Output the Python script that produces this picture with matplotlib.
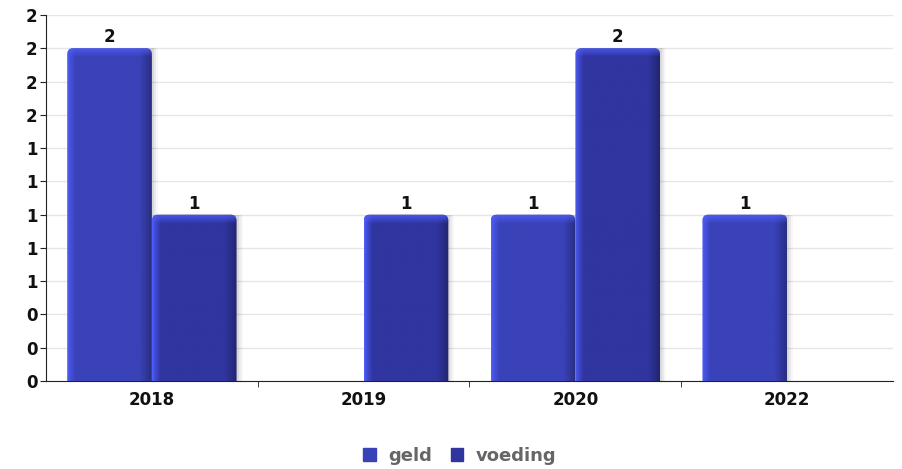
import matplotlib
matplotlib.use("Agg")
import matplotlib.pyplot as plt
import numpy as np
from matplotlib.colors import to_rgb
from matplotlib.patches import FancyBboxPatch

categories = ["2018", "2019", "2020", "2022"]
geld = [2, 0, 1, 1]
voeding = [1, 1, 2, 0]
series_names = ["geld", "voeding"]
colors = ["#3a42b8", "#3035a0"]
yticks = [0, 0.2, 0.4, 0.6, 0.8, 1.0, 1.2, 1.4, 1.6, 1.8, 2.0, 2.2]

plt.rcParams['font.family'] = ['DejaVu Sans']
fig = plt.figure(figsize=(9.03, 4.69), dpi=100)
ax = fig.add_axes([46/903, 1-381/469, 847/903, 366/469])

x = np.arange(len(categories))
w = 0.4
ax.set_xlim(-0.5, len(categories) - 0.5)
ax.set_ylim(0, 2.2)

# pixel -> data conversions
px_x = (len(categories)) / 847.0
px_y = 2.2 / 366.0


def shade(patch, base):
    bx = patch.get_x()
    bw, bh = patch.get_width(), patch.get_height()
    if bh <= 0:
        return
    patch.set_visible(False)
    r = 6 * px_x
    clip = FancyBboxPatch((bx, -0.2), bw, bh + 0.2,
                          boxstyle=f"round,pad=0,rounding_size={r}",
                          mutation_aspect=px_y / px_x,
                          facecolor='none', edgecolor='none', transform=ax.transData)
    ax.add_patch(clip)
    b = np.array(to_rgb(base))
    n = 120
    t = np.linspace(0, 1, n)
    light = np.array(to_rgb("#5060ff"))
    dark = b * 0.70
    prof = np.zeros((n, 3))
    for i, tv in enumerate(t):
        if tv < 0.10:
            f = (tv / 0.10) ** 0.7
            prof[i] = light * (1 - f) + b * f
        elif tv > 0.86:
            f = (tv - 0.86) / 0.14
            prof[i] = b * (1 - f) + dark * f
        else:
            prof[i] = b
    img = prof[np.newaxis, :, :]
    im = ax.imshow(img, extent=(bx, bx + bw, 0, bh), aspect='auto',
                   interpolation='bilinear', zorder=3)
    im.set_clip_path(clip)
    # top bevel
    th = 9 * px_y
    m = 20
    topimg = np.zeros((m, n, 4))
    for j in range(m):
        a = 1 - j / (m - 1)
        topimg[j, :, :3] = light
        topimg[j, :, 3] = 0.75 * a
    im2 = ax.imshow(topimg, extent=(bx, bx + bw, bh - th, bh), aspect='auto',
                    interpolation='bilinear', zorder=3.5, origin='upper')
    im2.set_clip_path(clip)


for k, (vals, col) in enumerate(zip([geld, voeding], colors)):
    pos = x - w / 2 + k * w
    # soft shadow
    for s, a in [(2, 0.07), (4, 0.05), (6, 0.03)]:
        ax.bar(pos + s * px_x, vals, w, color="#000000", alpha=a, zorder=2, linewidth=0)
    bars = ax.bar(pos, vals, w, color=col, zorder=3, linewidth=0, label=series_names[k])
    for p, v in zip(bars.patches, vals):
        shade(p, col)
        if v > 0:
            ax.text(p.get_x() + p.get_width() / 2, v + 2 * px_y, str(v), ha='center', va='bottom',
                    fontsize=12, fontweight='bold', color='#111111', zorder=5)

ax.set_yticks(yticks)
ax.set_yticklabels([f"{v:.0f}" for v in yticks], fontsize=12, fontweight='bold', color='#111111')
ax.set_xticks(x)
ax.set_xticklabels(categories, fontsize=12, fontweight='bold', color='#111111')
ax.tick_params(axis='x', length=0, pad=7)
ax.set_xticks(x[:-1] + 0.5, minor=True)
ax.tick_params(axis='x', which='minor', length=4, color='#222222')
ax.tick_params(axis='y', length=4, color='#222222', pad=2)
ax.grid(axis='y', color='#e6e6e6', linewidth=1, zorder=0)
ax.set_axisbelow(True)
for s in ['top', 'right']:
    ax.spines[s].set_visible(False)
ax.spines['left'].set_color('#222222')
ax.spines['bottom'].set_color('#222222')

handles = [plt.Rectangle((0, 0), 1, 1, color=c) for c in colors]
leg = fig.legend(handles, series_names, loc='center', bbox_to_anchor=(460/903, 1-456/469),
                 ncol=2, frameon=False, handlelength=0.7, handleheight=0.7,
                 handletextpad=0.7, columnspacing=1.0,
                 prop={'weight': 'bold', 'size': 13})
for t in leg.get_texts():
    t.set_color('#666666')

fig.savefig("out.png", dpi=100)
